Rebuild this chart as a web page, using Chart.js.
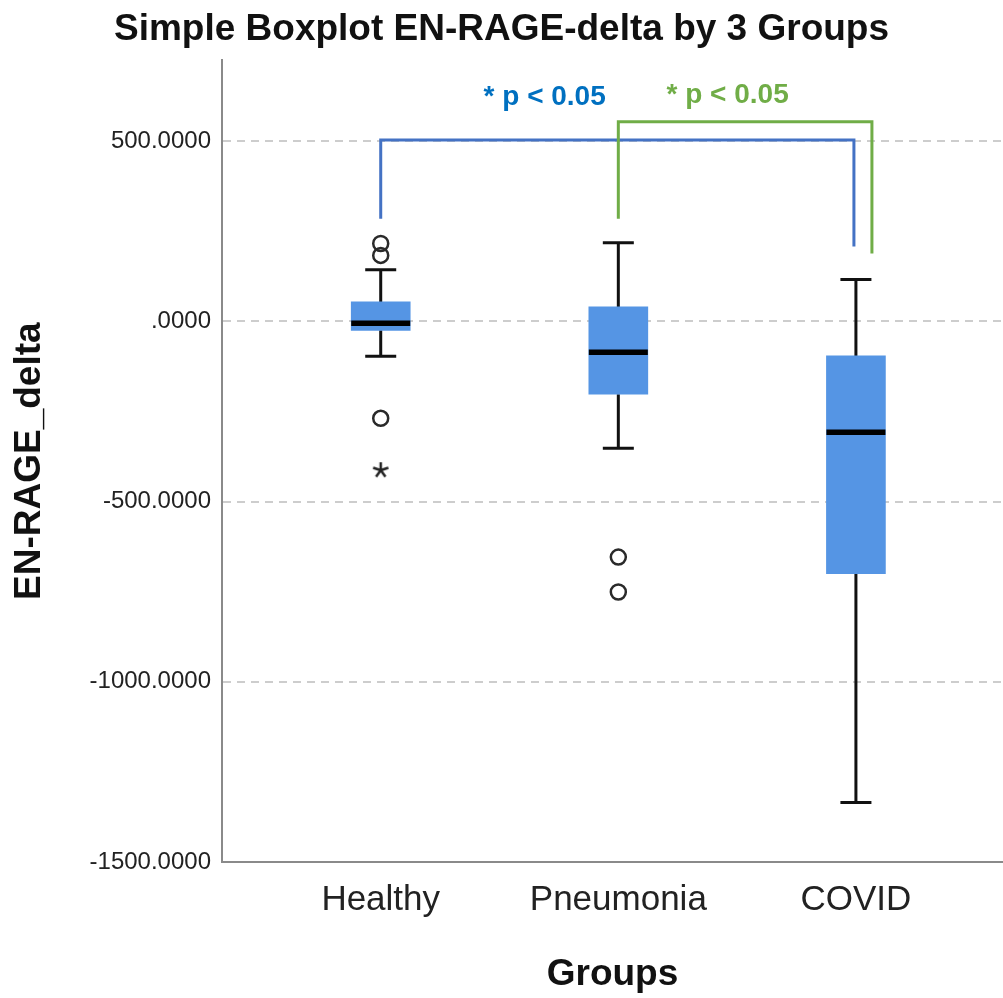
<!DOCTYPE html>
<html>
<head>
<meta charset="utf-8">
<title>EN-RAGE-delta by group</title>
<script src="https://cdn.jsdelivr.net/npm/chart.js@4.4.1/dist/chart.umd.min.js"></script>
<style>
  html, body { margin: 0; padding: 0; background: #fff; }
  #wrap { width: 1003px; height: 998px; }
</style>
</head>
<body>
<div id="wrap"><canvas id="boxChart"></canvas></div>
<script>
// groups on the x axis (linear positions 1..3)
const groups = ['Healthy', 'Pneumonia', 'COVID'];
const groupPos = [1, 2, 3];

// five-number summary per group
const whiskerHigh = [143, 218, 116];
const q3 = [54, 40, -96];
const median = [-5, -86, -308];
const q1 = [-25, -202, -700];
const whiskerLow = [-97, -352, -1335];

// outliers (circles) and extremes (star)
const outlierGroup = [1, 1, 1, 2, 2];
const outlierValue = [216, 183, -269, -654, -751];
const extremeGroup = [1];
const extremeValue = [-413];

const yTicks = [-1500, -1000, -500, 0, 500];
const yTickLabels = ['-1500.0000', '-1000.0000', '-500.0000', '.0000', '500.0000'];

// significance brackets: between groups, bar height, leg ends
const sigText = ['* p < 0.05', '* p < 0.05'];
const sigFrom = [1, 2];
const sigTo = [3, 3];
const sigTop = [503, 554];
const sigLegLeft = [285, 285];
const sigLegRight = [208, 188];
const sigTextX = [1.69, 2.46];
const sigTextY = [621, 627];

const FONT = '"Liberation Sans", Arial, sans-serif';
const boxColor = '#5595E4';
const sigLineColors = ['#4472C4', '#70AD47'];
const sigTextColors = ['#0070C0', '#70AD47'];
const sigRightShift = [-2, 16]; // px, so the two right legs don't overlap

// asterisk marker for extreme values
const starImg = document.createElement('canvas');
starImg.width = 22;
starImg.height = 22;
(function () {
  const s = starImg.getContext('2d');
  s.strokeStyle = '#222';
  s.lineWidth = 2.5;
  s.beginPath();
  for (let k = 0; k < 5; k++) {
    const a = -Math.PI / 2 + k * 2 * Math.PI / 5;
    s.moveTo(11, 11);
    s.lineTo(11 + 8 * Math.cos(a), 11 + 8 * Math.sin(a));
  }
  s.stroke();
})();

const boxPlotLines = {
  id: 'boxPlotLines',
  beforeDatasetsDraw(chart) {
    const { ctx, scales: { x, y } } = chart;
    ctx.save();
    ctx.strokeStyle = '#111';
    ctx.lineWidth = 3;
    groupPos.forEach((g, i) => {
      const cx = x.getPixelForValue(g);
      const hi = y.getPixelForValue(whiskerHigh[i]);
      const lo = y.getPixelForValue(whiskerLow[i]);
      ctx.beginPath();
      ctx.moveTo(cx, y.getPixelForValue(q3[i]));
      ctx.lineTo(cx, hi);
      ctx.moveTo(cx, y.getPixelForValue(q1[i]));
      ctx.lineTo(cx, lo);
      ctx.moveTo(cx - 15.5, hi);
      ctx.lineTo(cx + 15.5, hi);
      ctx.moveTo(cx - 15.5, lo);
      ctx.lineTo(cx + 15.5, lo);
      ctx.stroke();
    });
    ctx.restore();
  },
  afterDatasetsDraw(chart) {
    const { ctx, scales: { x, y } } = chart;
    ctx.save();
    // medians
    ctx.strokeStyle = '#000';
    ctx.lineWidth = 5.5;
    groupPos.forEach((g, i) => {
      const cx = x.getPixelForValue(g);
      const my = y.getPixelForValue(median[i]);
      ctx.beginPath();
      ctx.moveTo(cx - 29.5, my);
      ctx.lineTo(cx + 29.5, my);
      ctx.stroke();
    });
    // brackets
    ctx.lineWidth = 3;
    sigText.forEach((t, i) => {
      const x1 = x.getPixelForValue(sigFrom[i]);
      const x2 = x.getPixelForValue(sigTo[i]) + sigRightShift[i];
      const top = y.getPixelForValue(sigTop[i]);
      ctx.strokeStyle = sigLineColors[i];
      ctx.beginPath();
      ctx.moveTo(x1, y.getPixelForValue(sigLegLeft[i]));
      ctx.lineTo(x1, top);
      ctx.lineTo(x2, top);
      ctx.lineTo(x2, y.getPixelForValue(sigLegRight[i]));
      ctx.stroke();
      ctx.fillStyle = sigTextColors[i];
      ctx.font = 'bold 28px ' + FONT;
      ctx.textAlign = 'center';
      ctx.textBaseline = 'middle';
      ctx.fillText(t, x.getPixelForValue(sigTextX[i]), y.getPixelForValue(sigTextY[i]));
    });
    ctx.restore();
  }
};

Chart.defaults.font.family = FONT;

new Chart(document.getElementById('boxChart'), {
  type: 'bar',
  data: {
    datasets: [
      {
        type: 'bar',
        data: groupPos.map((g, i) => ({ x: g, y: [q1[i], q3[i]] })),
        backgroundColor: boxColor,
        borderWidth: 0,
        barThickness: 59,
        order: 2
      },
      {
        type: 'scatter',
        data: outlierGroup.map((g, i) => ({ x: g, y: outlierValue[i] })),
        pointStyle: 'circle',
        pointRadius: 7.5,
        pointBorderWidth: 2.5,
        borderColor: '#2a2a2a',
        backgroundColor: 'rgba(255,255,255,0)',
        order: 1
      },
      {
        type: 'scatter',
        data: extremeGroup.map((g, i) => ({ x: g, y: extremeValue[i] })),
        pointStyle: starImg,
        order: 1
      }
    ]
  },
  options: {
    responsive: true,
    maintainAspectRatio: false,
    animation: false,
    layout: { padding: 0, autoPadding: false },
    plugins: {
      legend: { display: false },
      tooltip: { enabled: false },
      title: {
        display: true,
        text: 'Simple Boxplot EN-RAGE-delta by 3 Groups',
        color: '#111',
        font: { size: 37, weight: 'bold' },
        padding: { top: 8, bottom: 8 }
      }
    },
    scales: {
      x: {
        type: 'linear',
        offset: false,
        min: 0.332,
        max: 3.619,
        afterBuildTicks: s => { s.ticks = groupPos.map(v => ({ value: v })); },
        afterFit: s => { s.height = 136; s.paddingRight = 0; s.paddingLeft = 0; },
        grid: { display: false, drawTicks: false, offset: false },
        border: { color: '#8a8a8a', width: 2 },
        ticks: {
          padding: 17,
          color: '#222',
          autoSkip: false,
          maxRotation: 0,
          font: { size: 35 },
          callback: v => groups[groupPos.indexOf(v)]
        },
        title: {
          display: true,
          text: 'Groups',
          color: '#111',
          font: { size: 37, weight: 'bold' },
          padding: { top: 31, bottom: 1 }
        }
      },
      y: {
        min: -1500,
        max: 724,
        afterBuildTicks: s => { s.ticks = yTicks.map(v => ({ value: v })); },
        afterFit: s => { s.width = 222; },
        grid: {
          color: c => (c.tick && c.tick.value === -1500) ? 'rgba(0,0,0,0)' : '#cdcdcd',
          lineWidth: 2,
          drawTicks: false
        },
        border: { color: '#8a8a8a', width: 2, dash: [8, 6] },
        ticks: {
          padding: 11,
          color: '#222',
          font: { size: 24 },
          callback: v => yTickLabels[yTicks.indexOf(v)]
        },
        title: {
          display: true,
          text: 'EN-RAGE_delta',
          color: '#111',
          font: { size: 37, weight: 'bold' },
          padding: { top: 8, bottom: 0 }
        }
      }
    }
  },
  plugins: [boxPlotLines]
});
</script>
</body>
</html>
